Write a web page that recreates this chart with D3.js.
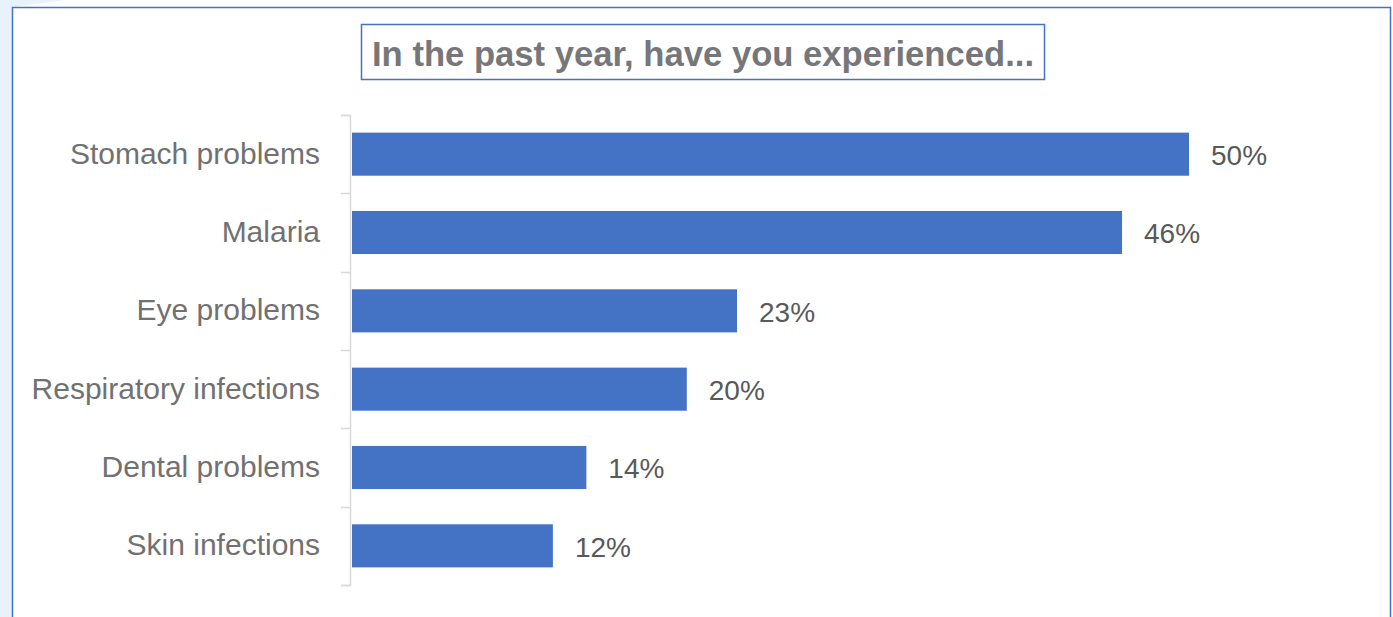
<!DOCTYPE html>
<html>
<head>
<meta charset="utf-8">
<script src="https://cdn.jsdelivr.net/npm/d3@7"></script>
<style>
  html, body { margin: 0; padding: 0; background: #ffffff; }
  svg { display: block; }
</style>
</head>
<body>
<svg id="chart" width="1393" height="617"></svg>
<script>
// Survey responses: share of people reporting each condition in the past year
const categories = ["Stomach problems", "Malaria", "Eye problems", "Respiratory infections", "Dental problems", "Skin infections"];
const values = [50, 46, 23, 20, 14, 12];
const valueLabels = ["50%", "46%", "23%", "20%", "14%", "12%"];
const title = "In the past year, have you experienced...";

const W = 1393, H = 617;
const FONT = "'Liberation Sans', Arial, sans-serif";
const svg = d3.select("#chart");

// page backdrop: pale strip on the left edge
svg.append("rect").attr("x", 0).attr("y", 0).attr("width", 12).attr("height", H).attr("fill", "#e8f2fa");
svg.append("path").attr("d", "M0,0 H65 L12,7 H0 Z").attr("fill", "#e8f2fa");

// chart frame
svg.append("rect")
  .attr("x", 12.5).attr("y", 7.5)
  .attr("width", 1378).attr("height", H + 20)
  .attr("fill", "#ffffff")
  .attr("stroke", "#4472c4").attr("stroke-width", 1.5);

// title box
const tb = { x: 361.5, y: 24.5, w: 683, h: 55 };
svg.append("rect")
  .attr("x", tb.x).attr("y", tb.y).attr("width", tb.w).attr("height", tb.h)
  .attr("fill", "#ffffff").attr("stroke", "#4472c4").attr("stroke-width", 1.5);
const titleText = svg.append("text")
  .attr("x", tb.x + tb.w / 2).attr("y", tb.y + 41)
  .attr("text-anchor", "middle")
  .attr("font-family", "'Liberation Sans Narrow', " + FONT)
  .attr("font-weight", "bold")
  .attr("font-size", 35)
  .attr("fill", "#76777a")
  .text(title);
// keep the title inside its box
titleText.attr("textLength", 662).attr("lengthAdjust", "spacingAndGlyphs");

// scales
const x = d3.scaleLinear().domain([0, 50]).range([352, 1189]);
const y = d3.scaleBand().domain(categories).range([115, 585]).paddingInner(0.45).paddingOuter(0.225);

// category axis
const axisScale = d3.scaleBand().domain(categories).range([115, 585]);
const ax = svg.append("g").attr("transform", "translate(350,0)")
  .call(d3.axisLeft(axisScale).tickSize(0).tickFormat(""));
ax.select(".domain").attr("stroke", "#d9d9d9").attr("stroke-width", 1.5).attr("d", "M-9,115.5 H0.5 V585.5 H-9");

// separators between categories
const bounds = axisScale.domain().map(d => axisScale(d)).concat([585]);
svg.append("g").selectAll("line").data(bounds).join("line")
  .attr("x1", 341).attr("x2", 350.5)
  .attr("y1", d => Math.round(d) + 0.5).attr("y2", d => Math.round(d) + 0.5)
  .attr("stroke", "#d9d9d9").attr("stroke-width", 1.5);

// category labels
svg.append("g").selectAll("text").data(categories).join("text")
  .attr("x", 320)
  .attr("y", d => y(d) + y.bandwidth() / 2 - 1)
  .attr("dy", "0.35em")
  .attr("text-anchor", "end")
  .attr("font-family", FONT)
  .attr("font-size", 30)
  .attr("fill", "#717171")
  .text(d => d);

// bars
svg.append("g").selectAll("rect").data(values).join("rect")
  .attr("x", x(0))
  .attr("y", (d, i) => y(categories[i]))
  .attr("width", d => x(d) - x(0))
  .attr("height", y.bandwidth())
  .attr("fill", "#4472c4");

// value labels
svg.append("g").selectAll("text").data(values).join("text")
  .attr("x", d => x(d) + 22)
  .attr("y", (d, i) => y(categories[i]) + y.bandwidth() / 2 + 1)
  .attr("dy", "0.35em")
  .attr("font-family", FONT)
  .attr("font-size", 28)
  .attr("fill", "#595959")
  .text((d, i) => valueLabels[i]);
</script>
</body>
</html>
